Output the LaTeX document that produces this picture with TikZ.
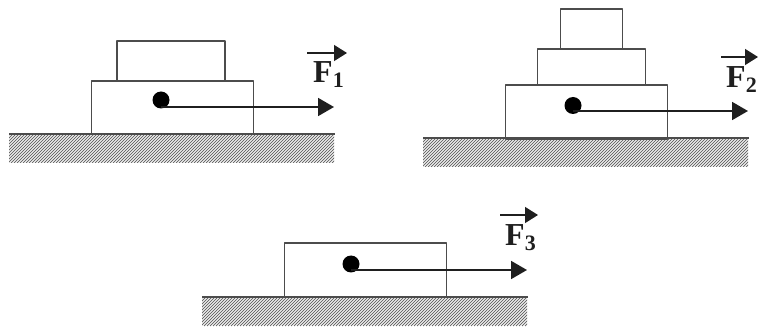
\documentclass[tikz,border=0pt]{standalone}
\usepackage{fontspec}
\setmainfont{Liberation Serif}
\usetikzlibrary{arrows.meta}
\definecolor{edge}{gray}{0.3}
\tikzset{
  x=1pt,y=-1pt,
  blockbox/.style={draw=edge,line width=1.9pt,line join=round,inner sep=0pt,anchor=north west},
  groundline/.style={draw=edge,line width=1.9pt},
  hatchline/.style={draw=black!58,line width=0.85pt},
  pointdot/.style={circle,fill=black,inner sep=0pt,minimum size=17pt},
  force/.style={draw=black!88,line width=1.9pt,-{Triangle[length=16pt,width=18pt]}},
  vecarrow/.style={draw=black!88,line width=1.5pt,-{Triangle[length=13pt,width=16pt]}},
  forcelabel/.style={inner sep=0pt,anchor=base west,font=\fontsize{32}{32}\selectfont\bfseries,text=black!88}
}
\newcommand{\forcetext}[1]{F\raisebox{-5pt}{\fontsize{22}{22}\selectfont #1}}
\newcommand{\hatchfield}[2]{%
  \begin{scope}
    \clip (#1,#2) rectangle ++(325,29);
    \foreach \k in {-40,-37,...,340}{
      \draw[hatchline] ({#1+\k},{#2+29}) -- ++(30,-30);
    }
  \end{scope}
  \draw[groundline] (#1,#2) -- ++(326,0);
}
\begin{document}
\begin{tikzpicture}
\useasboundingbox (0,0) rectangle (758,331);
% Panel 1
\hatchfield{9}{134}
\node[blockbox,minimum width=162pt,minimum height=53pt] (b1) at (90.500,80) {};
\node[blockbox,minimum width=108pt,minimum height=40pt] (u1) at (116,40) {};
\node[pointdot] (d1) at (161,100) {};
\coordinate (e1) at (334,107);
\draw[force] (d1.center |- e1) -- (e1);
\coordinate (va1) at (307,53); \coordinate (vb1) at (347,53);
\draw[vecarrow] (va1) -- (vb1);
\node[forcelabel] (f1) at (313,83) {\forcetext{1}};
% Panel 2
\hatchfield{423}{138}
\node[blockbox,minimum width=162pt,minimum height=54pt] (b2) at (504.500,84) {};
\node[blockbox,minimum width=108pt,minimum height=36pt] (m2) at (536.500,48) {};
\node[blockbox,minimum width=62pt,minimum height=40pt] (t2) at (559.500,8) {};
\node[pointdot] (d2) at (573,105.500) {};
\coordinate (e2) at (748,111);
\draw[force] (d2.center |- e2) -- (e2);
\coordinate (va2) at (721,57); \coordinate (vb2) at (758,57);
\draw[vecarrow] (va2) -- (vb2);
\node[forcelabel] (f2) at (726,88) {\forcetext{2}};
% Panel 3
\hatchfield{202}{297}
\node[blockbox,minimum width=162pt,minimum height=54pt] (b3) at (283.500,242.500) {};
\node[pointdot] (d3) at (351,264) {};
\coordinate (e3) at (527,270);
\draw[force] (d3.center |- e3) -- (e3);
\coordinate (va3) at (500,215); \coordinate (vb3) at (538,215);
\draw[vecarrow] (va3) -- (vb3);
\node[forcelabel] (f3) at (505,246) {\forcetext{3}};
\end{tikzpicture}
\end{document}
